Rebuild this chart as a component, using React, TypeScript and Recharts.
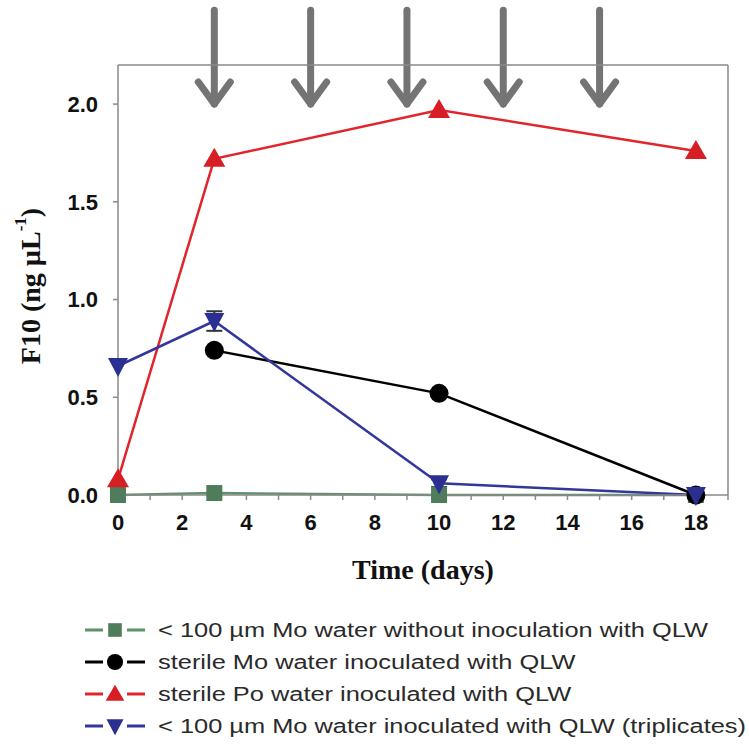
import React from 'react';
import { LineChart, Line, XAxis, YAxis, ReferenceLine, ErrorBar, Legend } from 'recharts';

// sampling days and F10 values
const days = [0, 3, 10, 18];
const noInocVals = [0.0, 0.01, 0.0, 0.0];
const sterileMoDays = [3, 10, 18];
const sterileMoVals = [0.74, 0.52, 0.0];
const sterilePoVals = [0.08, 1.72, 1.97, 1.76];
const triplicateVals = [0.66, 0.89, 0.06, 0.0];
const triplicateErr = [0, 0.05, 0.02, 0];

const xTicks = [0, 1, 2, 3, 4, 5, 6, 7, 8, 9, 10, 11, 12, 13, 14, 15, 16, 17, 18, 19];
const yTicks = [0, 0.5, 1.0, 1.5, 2.0];

// inoculation arrows (days) drawn from arrowTop down to arrowTip
const arrowDays = [3, 6, 9, 12, 15];
const arrowTip = 1.98;
const arrowTop = 2.48;

const GREEN = '#4f7d5c';
const RED = '#d81e25';
const BLUE = '#2b2f91';
const BLACK = '#000000';
const AXIS = '#8a8a8a';
const ARROW = '#747474';

const toRows = (xs: number[], ys: number[], err?: number[]) =>
  xs.map((d, i) => ({ day: d, value: ys[i], err: err ? err[i] : 0 }));

const noInocData = toRows(days, noInocVals);
const sterileMoData = toRows(sterileMoDays, sterileMoVals);
const sterilePoData = toRows(days, sterilePoVals);
const triplicateData = toRows(days, triplicateVals, triplicateErr);

type Shape = 'square' | 'circle' | 'up' | 'down';

const Marker = ({ cx, cy, shape, color, k = 1 }: { cx: number; cy: number; shape: Shape; color: string; k?: number }) => {
  if (cx == null || cy == null) return null;
  if (shape === 'square') return <rect x={cx - 8 * k} y={cy - 8 * k} width={16 * k} height={16 * k} fill={color} />;
  if (shape === 'circle') return <circle cx={cx} cy={cy} r={9.5 * k} fill={color} />;
  if (shape === 'up')
    return (
      <polygon
        points={`${cx},${cy - 11 * k} ${cx - 11 * k},${cy + 8 * k} ${cx + 11 * k},${cy + 8 * k}`}
        fill={color}
      />
    );
  return (
    <polygon
      points={`${cx - 10 * k},${cy - 8 * k} ${cx + 10 * k},${cy - 8 * k} ${cx},${cy + 11 * k}`}
      fill={color}
    />
  );
};

const series = [
  { name: '< 100 µm Mo water without inoculation with QLW', data: noInocData, color: GREEN, line: '#5e9069', shape: 'square' as Shape },
  { name: 'sterile Mo water inoculated with QLW', data: sterileMoData, color: BLACK, line: BLACK, shape: 'circle' as Shape },
  { name: 'sterile Po water inoculated with QLW', data: sterilePoData, color: RED, line: '#e0262c', shape: 'up' as Shape },
  { name: '< 100 µm Mo water inoculated with QLW (triplicates)', data: triplicateData, color: BLUE, line: '#33379c', shape: 'down' as Shape },
];

const Arrow = (props: any) => {
  const { x1, y1, x2, y2 } = props;
  const x = x1;
  const tip = Math.max(y1, y2);
  const top = Math.min(y1, y2);
  return (
    <g stroke={ARROW} strokeWidth={7} fill="none" strokeLinecap="round" strokeLinejoin="round">
      <line x1={x} y1={top} x2={x} y2={tip - 4} />
      <polyline points={`${x - 16},${tip - 26} ${x},${tip - 4} ${x + 16},${tip - 26}`} />
    </g>
  );
};

const YTitle = (props: any) => {
  const vb = props.viewBox || {};
  const cx = 30;
  const cy = vb.y + vb.height / 2 + 6;
  return (
    <text
      x={cx}
      y={cy}
      transform={`rotate(-90 ${cx} ${cy})`}
      textAnchor="middle"
      dominantBaseline="central"
      fontFamily="'Liberation Serif', 'Times New Roman', serif"
      fontWeight="bold"
      fontSize={28}
      fill="#111"
    >
      F10 (ng µL
      <tspan dy={-10} fontSize={17}>-1</tspan>
      <tspan dy={10}>)</tspan>
    </text>
  );
};

const renderLegend = () => (
  <div style={{ fontFamily: "'Liberation Sans', Arial, sans-serif", fontSize: 20, color: '#2a2a2a' }}>
    {series.map((s) => (
      <div key={s.name} style={{ display: 'flex', alignItems: 'center', height: 32 }}>
        <svg width={62} height={26} style={{ flex: 'none' }}>
          <line x1={1} y1={13} x2={19} y2={13} stroke={s.line} strokeWidth={3} />
          <line x1={43} y1={13} x2={61} y2={13} stroke={s.line} strokeWidth={3} />
          <Marker cx={31} cy={13} shape={s.shape} color={s.color} k={0.85} />
        </svg>
        <span
          style={{
            marginLeft: 12,
            whiteSpace: 'nowrap',
            display: 'inline-block',
            transform: 'scaleX(1.27)',
            transformOrigin: 'left center',
          }}
        >
          {s.name}
        </span>
      </div>
    ))}
  </div>
);

const tickStyle = {
  fontFamily: "'Liberation Sans', Arial, sans-serif",
  fontWeight: 'bold',
  fontSize: 22,
  fill: '#111',
};

export default function App() {
  return (
    <div style={{ position: 'absolute', left: 0, top: 0, background: '#fff' }}>
      <LineChart width={749} height={747} margin={{ top: 60, right: 21, bottom: 162, left: 0 }}>
        <XAxis
          dataKey="day"
          type="number"
          domain={[0, 19]}
          ticks={xTicks}
          interval={0}
          allowDuplicatedCategory={false}
          tickFormatter={(v: number) => (v % 2 === 0 && v <= 18 ? String(v) : '')}
          tick={tickStyle}
          tickSize={5}
          tickMargin={14}
          stroke={AXIS}
          strokeWidth={1.5}
          height={90}
          label={{
            value: 'Time (days)',
            position: 'insideBottom',
            offset: 6,
            style: {
              fontFamily: "'Liberation Serif', 'Times New Roman', serif",
              fontWeight: 'bold',
              fontSize: 28,
              fill: '#111',
            },
          }}
        />
        <XAxis
          xAxisId="top"
          orientation="top"
          dataKey="day"
          type="number"
          domain={[0, 19]}
          ticks={xTicks}
          interval={0}
          tickFormatter={() => ''}
          tickSize={5}
          stroke={AXIS}
          strokeWidth={1.5}
          height={5}
        />
        <YAxis
          type="number"
          domain={[0, 2.2]}
          ticks={yTicks}
          interval={0}
          tickFormatter={(v: number) => v.toFixed(1)}
          tick={tickStyle}
          tickSize={5}
          tickMargin={15}
          stroke={AXIS}
          strokeWidth={1.5}
          width={118}
          label={<YTitle />}
        />
        <ReferenceLine x={19} stroke={AXIS} strokeWidth={1.5} ifOverflow="visible" />
        {series.map((s) => (
          <Line
            key={s.name}
            data={s.data}
            dataKey="value"
            name={s.name}
            stroke={s.line}
            strokeWidth={2.5}
            isAnimationActive={false}
            dot={(p: any) => <Marker key={`${s.name}-${p.index}`} cx={p.cx} cy={p.cy} shape={s.shape} color={s.color} />}
            activeDot={false}
          >
            {s.shape === 'down' && (
              <ErrorBar dataKey="err" direction="y" width={8} stroke="#333" strokeWidth={2} />
            )}
          </Line>
        ))}
        {arrowDays.map((d) => (
          <ReferenceLine
            key={`arrow-${d}`}
            segment={[{ x: d, y: arrowTip }, { x: d, y: arrowTop }]}
            ifOverflow="visible"
            shape={<Arrow />}
          />
        ))}
        <Legend
          layout="vertical"
          align="center"
          verticalAlign="middle"
          wrapperStyle={{ top: 614, left: 84, width: 665 }}
          content={renderLegend}
        />
      </LineChart>
    </div>
  );
}
